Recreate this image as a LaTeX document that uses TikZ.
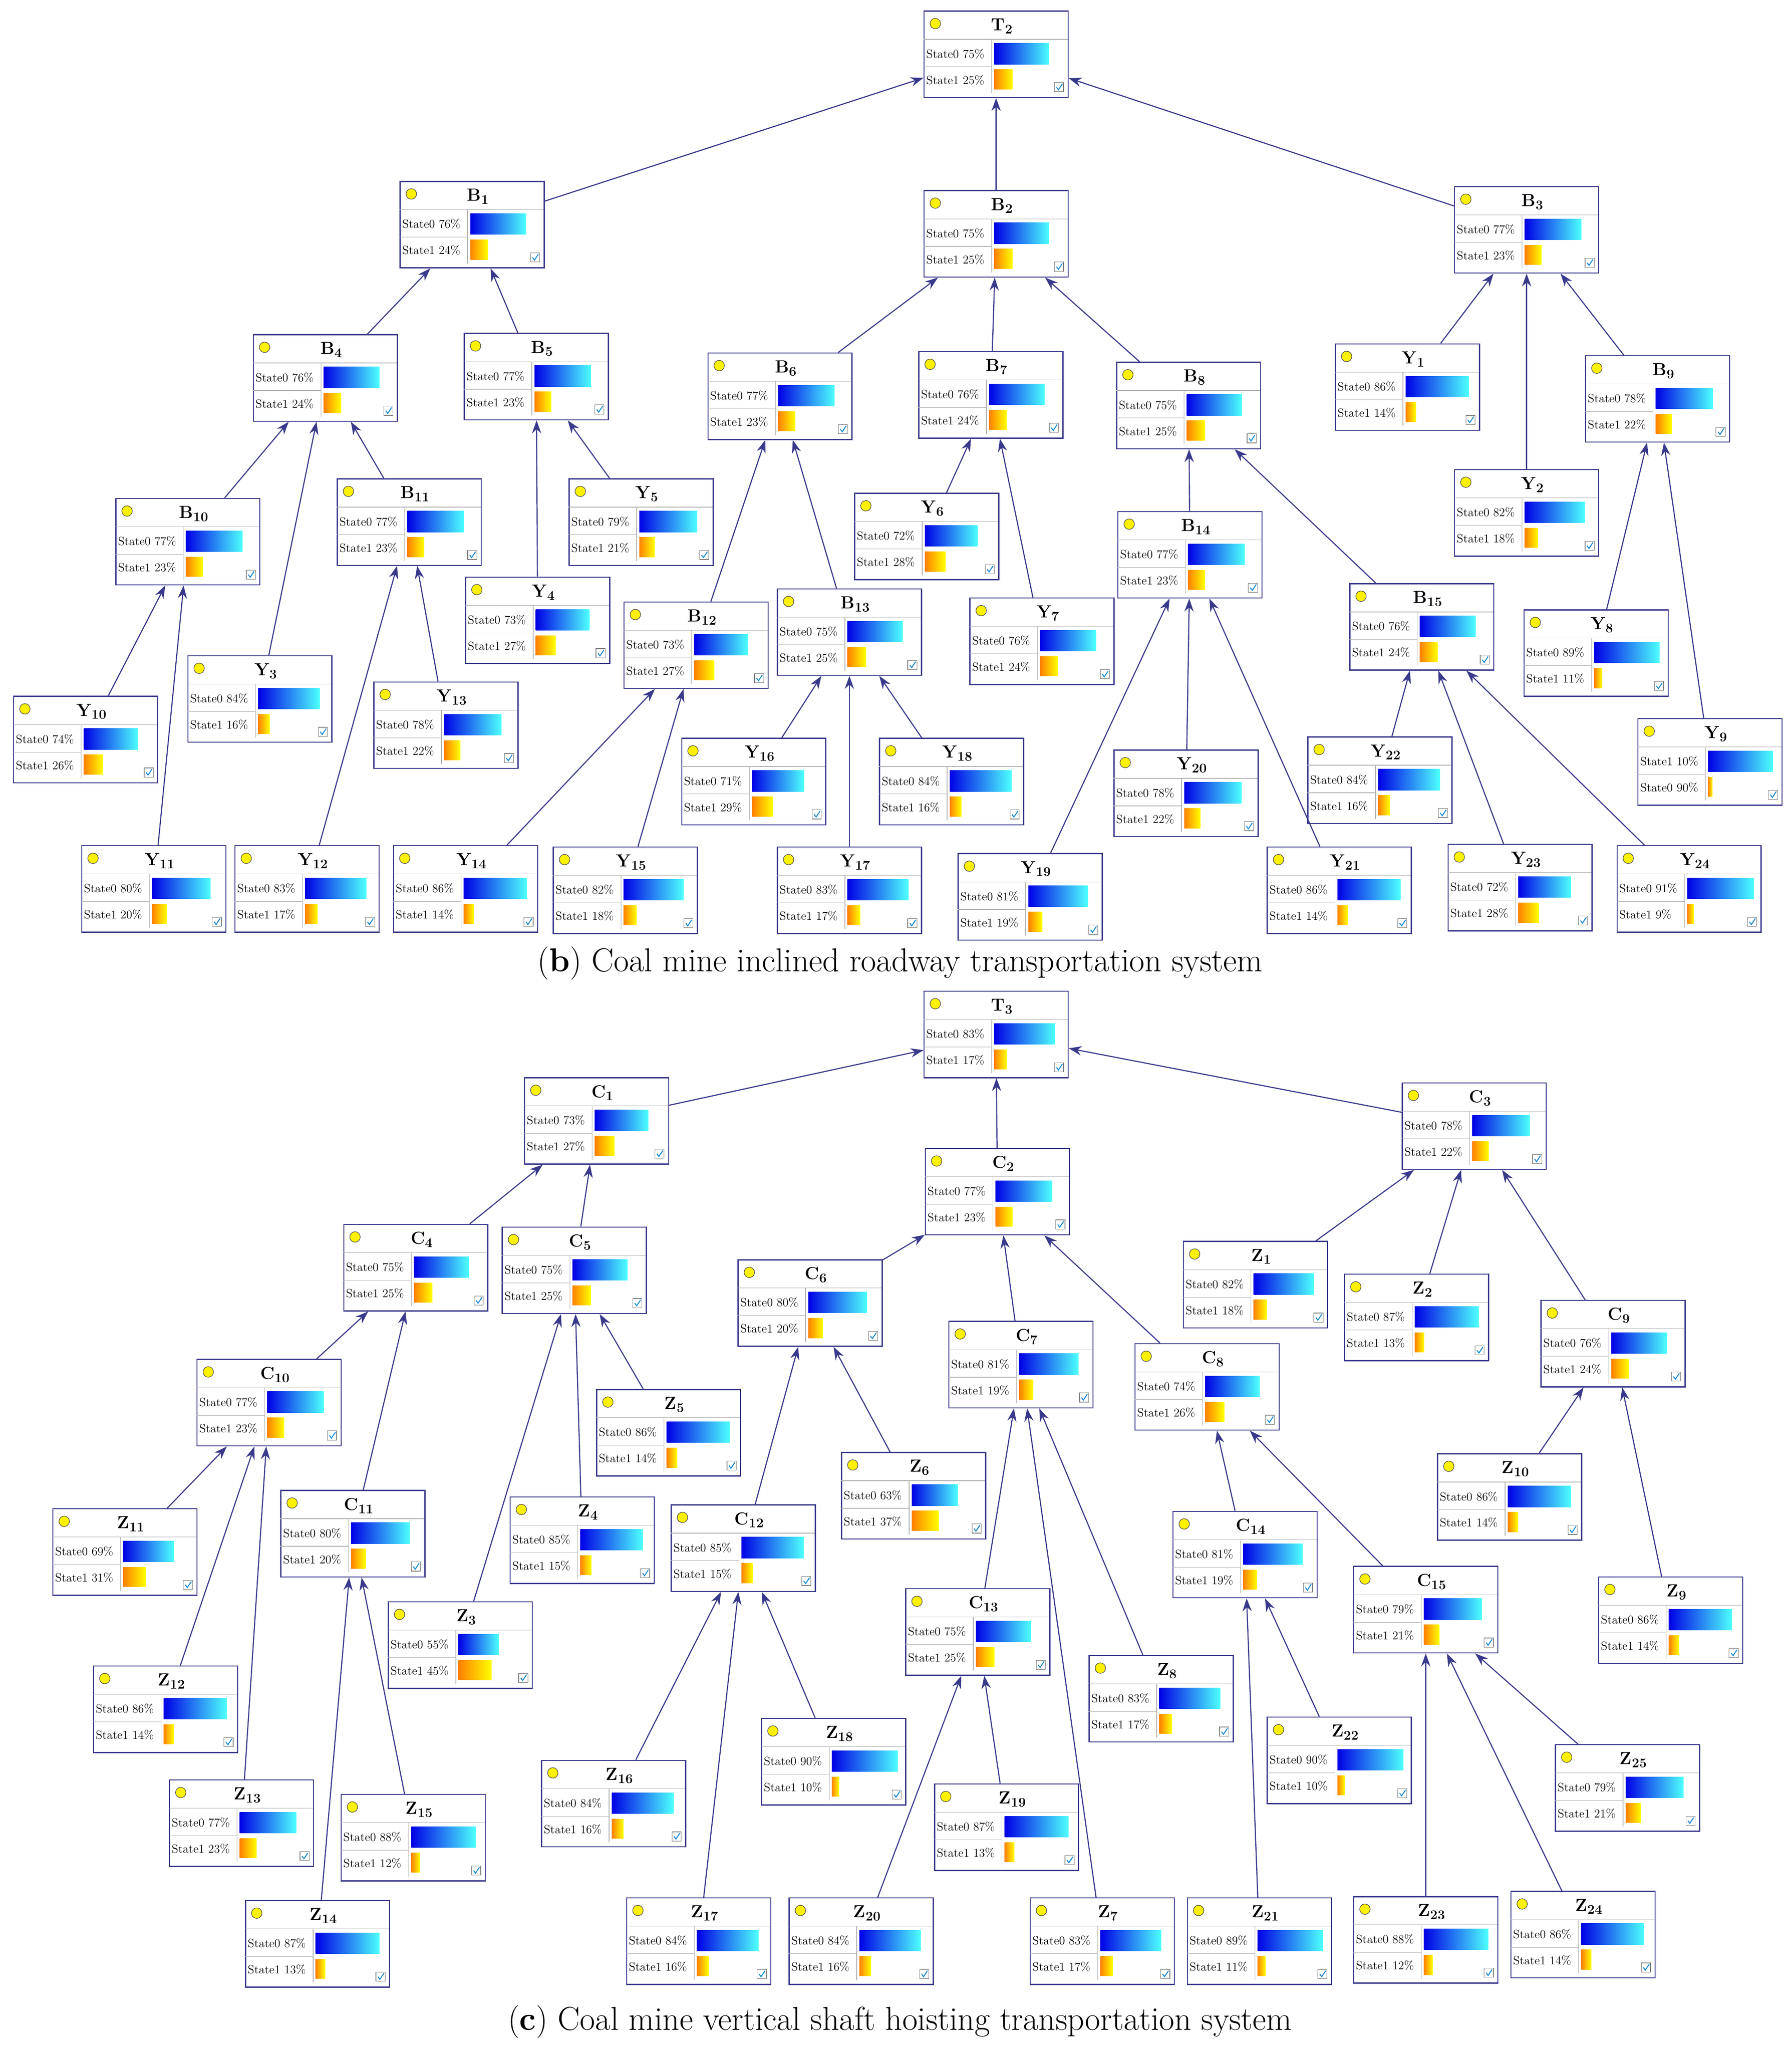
\documentclass[tikz,border=0pt]{standalone}
\usetikzlibrary{arrows.meta}
\begin{document}
\definecolor{edge}{HTML}{3A3A8C}
\tikzset{
 box/.style={draw=edge,line width=1.2pt,fill=white,minimum width=5.5cm,minimum height=3.3cm,inner sep=0pt,anchor=north west},
 st/.style={font=\fontsize{13}{13}\selectfont,anchor=west,inner sep=0pt},
 ttl/.style={font=\fontsize{19}{19}\selectfont\bfseries,inner sep=0pt},
 arr/.style={draw=edge,line width=1.2pt,-{Stealth[length=14pt,width=10pt]}},
 captxt/.style={font=\fontsize{36}{36}\selectfont,inner sep=0pt}
}
\newcommand\bnc[8]{%
\begin{scope}[shift={(#2,#3)}]
\node[box] (#1) at (0,0) {};
\draw[gray!60,line width=0.6pt] (0,22)--(110,22) (52,22)--(52,63) (0,43)--(52,43);
\fill[yellow] (9,10) circle (4); \draw[black!70,line width=0.6pt] (9,10) circle (4);
\node[ttl] at (60,12) {#4};
\node[st] at (2,33) {#5};
\node[st] at (2,53) {#7};
\shade[left color=blue!90!black,right color=cyan!70] (54,25) rectangle ({54+0.56*#6},41);
\shade[left color=orange,right color=yellow] (54,45) rectangle ({54+0.56*#8},60);
\draw[gray,line width=0.6pt,fill=white] (100,55) rectangle (107,62);
\draw[cyan!70!blue,line width=1pt] (101.5,58.5)--(103,60.5)--(106,56);
\end{scope}}
\newcommand\bn[6]{\bnc{#1}{#2}{#3}{#4}{State0 #5\%}{#5}{State1 #6\%}{#6}}
\newcommand\lb[2]{\textbf{#1}$_{\mathbf{#2}}$}
\begin{tikzpicture}[x=0.05cm,y=-0.05cm]
\useasboundingbox (0,0) rectangle (1368,1566);
\fill[white] (0,0) rectangle (1368,1566);
% ---- part b
\bn{T2}{705}{8}{\lb{T}{2}}{75}{25}
\bn{B1}{305}{138}{\lb{B}{1}}{76}{24}
\bn{B2}{705}{145}{\lb{B}{2}}{75}{25}
\bn{B3}{1110}{142}{\lb{B}{3}}{77}{23}
\bn{B4}{193}{255}{\lb{B}{4}}{76}{24}
\bn{B5}{354}{254}{\lb{B}{5}}{77}{23}
\bn{B6}{540}{269}{\lb{B}{6}}{77}{23}
\bn{B7}{701}{268}{\lb{B}{7}}{76}{24}
\bn{B8}{852}{276}{\lb{B}{8}}{75}{25}
\bn{Y1}{1019}{262}{\lb{Y}{1}}{86}{14}
\bn{B9}{1210}{271}{\lb{B}{9}}{78}{22}
\bn{Y2}{1110}{358}{\lb{Y}{2}}{82}{18}
\bn{B10}{88}{380}{\lb{B}{10}}{77}{23}
\bn{B11}{257}{365}{\lb{B}{11}}{77}{23}
\bn{Y5}{434}{365}{\lb{Y}{5}}{79}{21}
\bn{Y6}{652}{376}{\lb{Y}{6}}{72}{28}
\bn{B14}{853}{390}{\lb{B}{14}}{77}{23}
\bn{B15}{1030}{445}{\lb{B}{15}}{76}{24}
\bn{Y4}{355}{440}{\lb{Y}{4}}{73}{27}
\bn{B12}{476}{459}{\lb{B}{12}}{73}{27}
\bn{B13}{593}{449}{\lb{B}{13}}{75}{25}
\bn{Y7}{740}{456}{\lb{Y}{7}}{76}{24}
\bn{Y8}{1163}{465}{\lb{Y}{8}}{89}{11}
\bn{Y3}{143}{500}{\lb{Y}{3}}{84}{16}
\bn{Y13}{285}{520}{\lb{Y}{13}}{78}{22}
\bn{Y10}{10}{531}{\lb{Y}{10}}{74}{26}
\bn{Y16}{520}{563}{\lb{Y}{16}}{71}{29}
\bn{Y18}{671}{563}{\lb{Y}{18}}{84}{16}
\bn{Y20}{850}{572}{\lb{Y}{20}}{78}{22}
\bn{Y22}{998}{562}{\lb{Y}{22}}{84}{16}
\bnc{Y9}{1250}{548}{\lb{Y}{9}}{State1 10\%}{88}{State0 90\%}{6}
\bn{Y11}{62}{645}{\lb{Y}{11}}{80}{20}
\bn{Y12}{179}{645}{\lb{Y}{12}}{83}{17}
\bn{Y14}{300}{645}{\lb{Y}{14}}{86}{14}
\bn{Y15}{422}{646}{\lb{Y}{15}}{82}{18}
\bn{Y17}{593}{646}{\lb{Y}{17}}{83}{17}
\bn{Y19}{731}{651}{\lb{Y}{19}}{81}{19}
\bn{Y21}{967}{646}{\lb{Y}{21}}{86}{14}
\bn{Y23}{1105}{644}{\lb{Y}{23}}{72}{28}
\bn{Y24}{1234}{645}{\lb{Y}{24}}{91}{9}
\node[captxt] (capb) at (687,735) {(\textbf{b}) Coal mine inclined roadway transportation system};
\foreach \a/\b in {B1/T2,B2/T2,B3/T2,B4/B1,B5/B1,B6/B2,B7/B2,B8/B2,Y1/B3,Y2/B3,B9/B3,
 B10/B4,Y3/B4,B11/B4,Y4/B5,Y5/B5,B12/B6,B13/B6,Y6/B7,Y7/B7,B14/B8,B15/B8,Y8/B9,Y9/B9,
 Y10/B10,Y11/B10,Y12/B11,Y13/B11,Y14/B12,Y15/B12,Y16/B13,Y17/B13,Y18/B13,
 Y19/B14,Y20/B14,Y21/B14,Y22/B15,Y23/B15,Y24/B15}
 \draw[arr] (\a) -- (\b);
% ---- part c
\bn{T3}{705}{756}{\lb{T}{3}}{83}{17}
\bn{C1}{400}{822}{\lb{C}{1}}{73}{27}
\bn{C2}{706}{876}{\lb{C}{2}}{77}{23}
\bn{C3}{1070}{826}{\lb{C}{3}}{78}{22}
\bn{C4}{262}{934}{\lb{C}{4}}{75}{25}
\bn{C5}{383}{936}{\lb{C}{5}}{75}{25}
\bn{C6}{563}{961}{\lb{C}{6}}{80}{20}
\bn{C7}{724}{1008}{\lb{C}{7}}{81}{19}
\bn{C8}{866}{1025}{\lb{C}{8}}{74}{26}
\bn{Z1}{903}{947}{\lb{Z}{1}}{82}{18}
\bn{Z2}{1026}{972}{\lb{Z}{2}}{87}{13}
\bn{C9}{1176}{992}{\lb{C}{9}}{76}{24}
\bn{C10}{150}{1037}{\lb{C}{10}}{77}{23}
\bn{Z5}{455}{1060}{\lb{Z}{5}}{86}{14}
\bn{Z6}{642}{1108}{\lb{Z}{6}}{63}{37}
\bn{C11}{214}{1137}{\lb{C}{11}}{80}{20}
\bn{Z4}{389}{1142}{\lb{Z}{4}}{85}{15}
\bn{C12}{512}{1148}{\lb{C}{12}}{85}{15}
\bn{Z10}{1097}{1109}{\lb{Z}{10}}{86}{14}
\bn{C14}{895}{1153}{\lb{C}{14}}{81}{19}
\bn{C15}{1033}{1195}{\lb{C}{15}}{79}{21}
\bn{Z9}{1220}{1203}{\lb{Z}{9}}{86}{14}
\bn{Z11}{40}{1151}{\lb{Z}{11}}{69}{31}
\bn{Z3}{296}{1222}{\lb{Z}{3}}{55}{45}
\bn{C13}{691}{1212}{\lb{C}{13}}{75}{25}
\bn{Z8}{831}{1263}{\lb{Z}{8}}{83}{17}
\bn{Z12}{71}{1271}{\lb{Z}{12}}{86}{14}
\bn{Z18}{581}{1311}{\lb{Z}{18}}{90}{10}
\bn{Z22}{967}{1310}{\lb{Z}{22}}{90}{10}
\bn{Z25}{1187}{1331}{\lb{Z}{25}}{79}{21}
\bn{Z16}{413}{1343}{\lb{Z}{16}}{84}{16}
\bn{Z19}{713}{1361}{\lb{Z}{19}}{87}{13}
\bn{Z13}{129}{1358}{\lb{Z}{13}}{77}{23}
\bn{Z15}{260}{1369}{\lb{Z}{15}}{88}{12}
\bn{Z14}{187}{1450}{\lb{Z}{14}}{87}{13}
\bn{Z17}{478}{1448}{\lb{Z}{17}}{84}{16}
\bn{Z20}{602}{1448}{\lb{Z}{20}}{84}{16}
\bn{Z7}{786}{1448}{\lb{Z}{7}}{83}{17}
\bn{Z21}{906}{1448}{\lb{Z}{21}}{89}{11}
\bn{Z23}{1033}{1447}{\lb{Z}{23}}{88}{12}
\bn{Z24}{1153}{1443}{\lb{Z}{24}}{86}{14}
\node[captxt] (capc) at (687,1543) {(\textbf{c}) Coal mine vertical shaft hoisting transportation system};
\foreach \a/\b in {C1/T3,C2/T3,C3/T3,C4/C1,C5/C1,C6/C2,C7/C2,C8/C2,Z1/C3,Z2/C3,C9/C3,
 C10/C4,C11/C4,Z3/C5,Z4/C5,Z5/C5,C12/C6,Z6/C6,C13/C7,Z7/C7,Z8/C7,C14/C8,C15/C8,Z10/C9,Z9/C9,
 Z11/C10,Z12/C10,Z13/C10,Z14/C11,Z15/C11,Z16/C12,Z17/C12,Z18/C12,Z20/C13,Z19/C13,
 Z21/C14,Z22/C14,Z23/C15,Z24/C15,Z25/C15}
 \draw[arr] (\a) -- (\b);
\end{tikzpicture}
\end{document}
